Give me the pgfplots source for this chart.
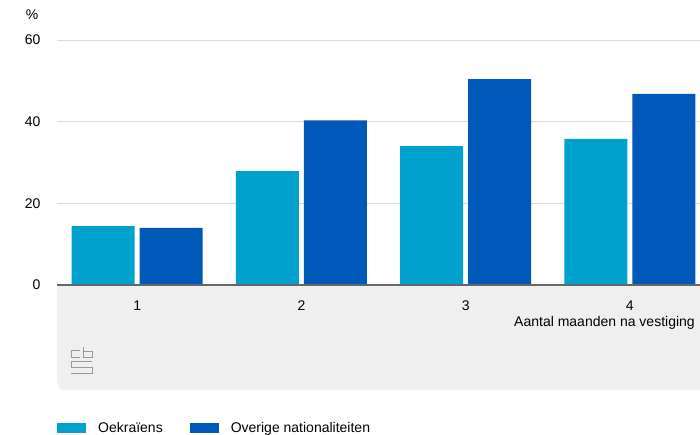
\documentclass[border=0pt]{standalone}
\usepackage{fontspec}
\setmainfont{Liberation Sans}
\usepackage{pgfplots}
\pgfplotsset{compat=1.18}

\definecolor{oekr}{HTML}{00A1CD}
\definecolor{overig}{HTML}{0058B8}
\definecolor{panel}{HTML}{EFEFEF}
\definecolor{gridc}{HTML}{DADADA}
\definecolor{basec}{HTML}{666666}
\definecolor{logoc}{HTML}{999999}

\begin{document}
\begin{tikzpicture}[font=\fontsize{14pt}{16pt}\selectfont]
\begin{axis}[
    at={(57pt,-285pt)}, anchor=south west,
    scale only axis, width=655pt, height=245pt,
    set layers,
    ybar, bar width=63pt,
    xmin=0.512, xmax=4.5, ymin=0, ymax=60,
    xtick={1,2,3,4}, ytick={0,20,40,60},
    ymajorgrids, grid style={gridc, line width=1pt},
    axis line style={draw=none},
    tick style={draw=none},
    /pgf/number format/assume math mode=true,
    yticklabel style={anchor=east, xshift=-13pt},
    xticklabel style={yshift=-8pt},
    xlabel={Aantal maanden na vestiging},
    xlabel style={at={(axis description cs:0.974,0)}, anchor=east, inner sep=0pt, yshift=-38pt},
    ylabel={\%},
    ylabel style={rotate=-90, at={(axis description cs:0,1)}, anchor=center, xshift=-25pt, yshift=25pt},
    legend image code/.code={\fill[#1] (0pt,-5pt) rectangle (29pt,5pt);},
    legend columns=2,
    legend cell align=left,
    legend style={at={(0,-0.584)}, anchor=west, draw=none, fill=none, inner sep=0pt,
        /tikz/every odd column/.append style={column sep=10pt},
        /tikz/every even column/.append style={column sep=25pt}},
]
\begin{pgfonlayer}{axis background}
\fill[panel] (axis description cs:0,0) [rounded corners=8pt] -- ([yshift=-105pt]axis description cs:0,0) -- ([yshift=-105pt]axis description cs:1,0) [sharp corners] -- (axis description cs:1,0) -- cycle;
\end{pgfonlayer}
\addplot[fill=oekr, draw=none, bar shift=-34pt] coordinates {(1,14.4) (2,27.9) (3,34.0) (4,35.8)};
\addplot[fill=overig, draw=none, bar shift=34pt] coordinates {(1,14.0) (2,40.3) (3,50.4) (4,46.8)};
\legend{Oekraïens, Overige nationaliteiten}
\draw[basec, line width=2pt] (axis description cs:0,0) -- (axis description cs:1,0);
\end{axis}
% cbs logo
\begin{scope}[logoc, line width=0.8pt, double=panel, double distance=1.5pt, line cap=rect, line join=miter]
\draw (80pt,-350pt) -- (71pt,-350pt) -- (71pt,-357pt) -- (80pt,-357pt);
\draw (83pt,-347pt) -- (83pt,-357pt) -- (92pt,-357pt) -- (92pt,-351pt) -- (83pt,-351pt);
\draw (92pt,-361pt) -- (71pt,-361pt) -- (71pt,-367pt) -- (92pt,-367pt) -- (92pt,-373pt) -- (71pt,-373pt);
\end{scope}
\pgfresetboundingbox
\useasboundingbox (0pt,0pt) rectangle (700pt,-435pt);
\end{tikzpicture}
\end{document}
